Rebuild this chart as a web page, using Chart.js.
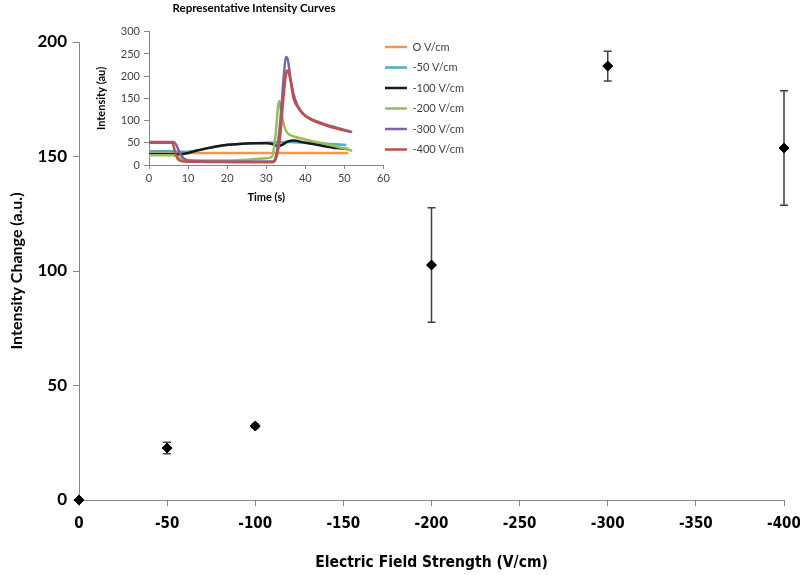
<!DOCTYPE html>
<html>
<head>
<meta charset="utf-8">
<script src="https://cdn.jsdelivr.net/npm/chart.js@4.4.1/dist/chart.umd.min.js"></script>
<style>
  body { margin: 0; background: #fff; }
  #wrap { position: relative; width: 800px; height: 575px; }
  #mainChart { position: absolute; left: 0; top: 0; }
  #insetChart { position: absolute; left: 26px; top: 0; }
</style>
</head>
<body>
<div id="wrap">
  <canvas id="mainChart" width="800" height="575"></canvas>
  <canvas id="insetChart" width="456" height="208"></canvas>
</div>
<script>
// main plot: intensity change vs field strength
const fieldStrength = [0, -50, -100, -200, -300, -400];
const intensityChange = [0, 22.7, 32.3, 102.6, 189.5, 153.7];
const intensityError = [0, 2.5, 0.8, 25, 6.5, 25];

// inset: representative intensity curves
const curveNames = ['O V/cm', '-50 V/cm', '-100 V/cm', '-200 V/cm', '-300 V/cm', '-400 V/cm'];
const curveColors = ['#F79646', '#4BACC6', '#1a1a1a', '#9BBB59', '#8064A2', '#C0504D'];

const time0 = [0, 51];
const int0 = [27, 27];
const time50 = [0, 6, 8, 10, 14, 18, 22, 26, 30, 33, 36, 40, 45, 50.5];
const int50 = [31, 31, 30, 30, 36, 43, 47, 49, 50, 51, 52, 50, 48, 45];
const time100 = [0, 8, 10, 12, 15, 18, 21, 24, 27, 30, 32, 33, 34, 35.5, 37, 40, 44, 48, 51];
const int100 = [24, 24, 27, 32, 38, 43, 46, 48, 49, 49, 46, 42, 45, 53, 55, 50, 44, 38, 36];
const time200 = [0, 6, 7, 8.5, 10, 15, 20, 25, 30, 31.5, 32.3, 33.3, 34, 35, 36, 38, 41, 45, 50, 52];
const int200 = [22, 22, 20, 13, 11, 10, 10, 12, 15, 19, 60, 144, 110, 78, 68, 62, 55, 48, 37, 32];
const time300 = [0, 6.3, 7, 8, 9, 11, 20, 31.5, 32.5, 33.5, 34.5, 35, 35.5, 36.3, 37.5, 39, 41, 44, 48, 52];
const int300 = [52, 52, 45, 25, 14, 9, 8, 8, 20, 90, 200, 243, 238, 190, 145, 120, 106, 95, 84, 74];
const time400 = [0, 6, 6.5, 7.5, 9, 15, 25, 31.5, 32.5, 33.5, 34.5, 35.3, 36, 37, 38.5, 40, 42, 45, 48, 51.5];
const int400 = [50, 50, 35, 12, 8, 7, 6, 6, 15, 60, 160, 213, 200, 150, 125, 110, 100, 90, 82, 75];

const curveTimes = [time0, time50, time100, time200, time300, time400];
const curveValues = [int0, int50, int100, int200, int300, int400];

const axisGray = '#868686';
const narrowFont = "'Liberation Sans Narrow', 'DejaVu Sans Condensed', sans-serif";

// Draw vertical error bars under the points
const errorBarPlugin = {
    id: 'errorBars',
    beforeDatasetsDraw(chart) {
        const ctx = chart.ctx;
        const xs = chart.scales.x;
        const ys = chart.scales.y;
        ctx.save();
        ctx.strokeStyle = '#404040';
        ctx.lineWidth = 1.5;
        fieldStrength.forEach((f, i) => {
            const err = intensityError[i];
            if (!err) return;
            const px = xs.getPixelForValue(f);
            const top = ys.getPixelForValue(intensityChange[i] + err);
            const bot = ys.getPixelForValue(intensityChange[i] - err);
            ctx.beginPath();
            ctx.moveTo(px, top); ctx.lineTo(px, bot);
            ctx.moveTo(px - 4, top); ctx.lineTo(px + 4, top);
            ctx.moveTo(px - 4, bot); ctx.lineTo(px + 4, bot);
            ctx.stroke();
        });
        ctx.restore();
    }
};

// nudge the inset legend a little closer to the plot, like the original
const legendShift = {
    id: 'legendShift',
    afterLayout(chart) {
        chart.legend.left -= 8;
        chart.legend.right -= 8;
    }
};

new Chart(document.getElementById('mainChart'), {
    type: 'scatter',
    data: {
        datasets: [{
            label: 'Intensity Change',
            data: fieldStrength.map((f, i) => ({ x: f, y: intensityChange[i] })),
            pointStyle: 'rectRot',
            pointRadius: 5,
            backgroundColor: '#000',
            borderColor: '#000',
            clip: false
        }]
    },
    options: {
        responsive: false,
        animation: false,
        layout: { padding: { top: 42, right: 16, left: 0, bottom: 0 } },
        plugins: { legend: { display: false }, tooltip: { enabled: false } },
        scales: {
            x: {
                type: 'linear',
                min: -400,
                max: 0,
                reverse: true,
                afterFit(scale) {
                    scale.height = 75;
                    scale.paddingLeft = 0;
                    scale.paddingRight = 0;
                },
                border: { color: axisGray, width: 1 },
                grid: { drawOnChartArea: false, color: axisGray, tickLength: 6 },
                ticks: {
                    stepSize: 50,
                    color: '#000',
                    padding: 9,
                    font: { family: narrowFont, size: 15, weight: 'bold' }
                },
                title: {
                    display: true,
                    text: 'Electric Field Strength (V/cm)',
                    color: '#000',
                    padding: { top: 0, bottom: 3 },
                    font: { family: narrowFont, size: 15.5, weight: 'bold' }
                }
            },
            y: {
                min: 0,
                max: 200,
                afterFit(scale) { scale.width = 79; },
                border: { color: axisGray, width: 1 },
                grid: { drawOnChartArea: false, color: axisGray, tickLength: 6 },
                ticks: {
                    stepSize: 50,
                    color: '#000',
                    padding: 6,
                    font: { family: 'Lato, sans-serif', size: 17, weight: 'bold' }
                },
                title: {
                    display: true,
                    text: 'Intensity Change (a.u.)',
                    color: '#000',
                    padding: { top: 7, bottom: 0 },
                    font: { family: 'Lato, sans-serif', size: 16, weight: 'bold' }
                }
            }
        }
    },
    plugins: [errorBarPlugin]
});

// Inset chart with the raw curves
new Chart(document.getElementById('insetChart'), {
    type: 'line',
    data: {
        datasets: curveNames.map((name, i) => ({
            label: name,
            data: curveTimes[i].map((t, j) => ({ x: t, y: curveValues[i][j] })),
            borderColor: curveColors[i],
            backgroundColor: curveColors[i],
            borderWidth: 2.5,
            pointRadius: 0,
            cubicInterpolationMode: 'monotone',
            order: curveNames.length - 1 - i
        }))
    },
    options: {
        responsive: false,
        animation: false,
        layout: { padding: 0 },
        plugins: {
            tooltip: { enabled: false },
            title: {
                display: true,
                text: 'Representative Intensity Curves',
                color: '#000',
                padding: { top: 1, bottom: 17 },
                font: { family: 'Lato, sans-serif', size: 11.5, weight: 'bold' }
            },
            legend: {
                position: 'right',
                align: 'start',
                title: { display: true, text: '', padding: { top: 20, bottom: 0 }, font: { size: 10 } },
                labels: {
                    usePointStyle: true,
                    pointStyle: 'line',
                    pointStyleWidth: 22,
                    padding: 9.5,
                    color: '#404040',
                    font: { family: 'Lato, sans-serif', size: 11 },
                    sort: (a, b) => a.datasetIndex - b.datasetIndex
                }
            }
        },
        scales: {
            x: {
                type: 'linear',
                min: 0,
                max: 60,
                afterFit(scale) { scale.height = 43; },
                border: { color: axisGray, width: 1 },
                grid: { drawOnChartArea: false, color: axisGray, tickLength: 4 },
                ticks: { stepSize: 10, color: '#404040', padding: 3, font: { family: 'Lato, sans-serif', size: 11 } },
                title: {
                    display: true,
                    text: 'Time (s)',
                    color: '#000',
                    padding: { top: 0, bottom: 4 },
                    font: { family: 'Lato, sans-serif', size: 11, weight: 'bold' }
                }
            },
            y: {
                min: 0,
                max: 300,
                afterFit(scale) { scale.width = 123; },
                border: { color: axisGray, width: 1 },
                grid: { drawOnChartArea: false, color: axisGray, tickLength: 5 },
                ticks: { stepSize: 50, color: '#404040', padding: 4, font: { family: 'Lato, sans-serif', size: 11 } },
                title: {
                    display: true,
                    text: 'Intensity (au)',
                    color: '#000',
                    padding: { top: 69, bottom: 0 },
                    font: { family: 'Lato, sans-serif', size: 11, weight: 'bold' }
                }
            }
        }
    },
    plugins: [legendShift]
});
</script>
</body>
</html>
